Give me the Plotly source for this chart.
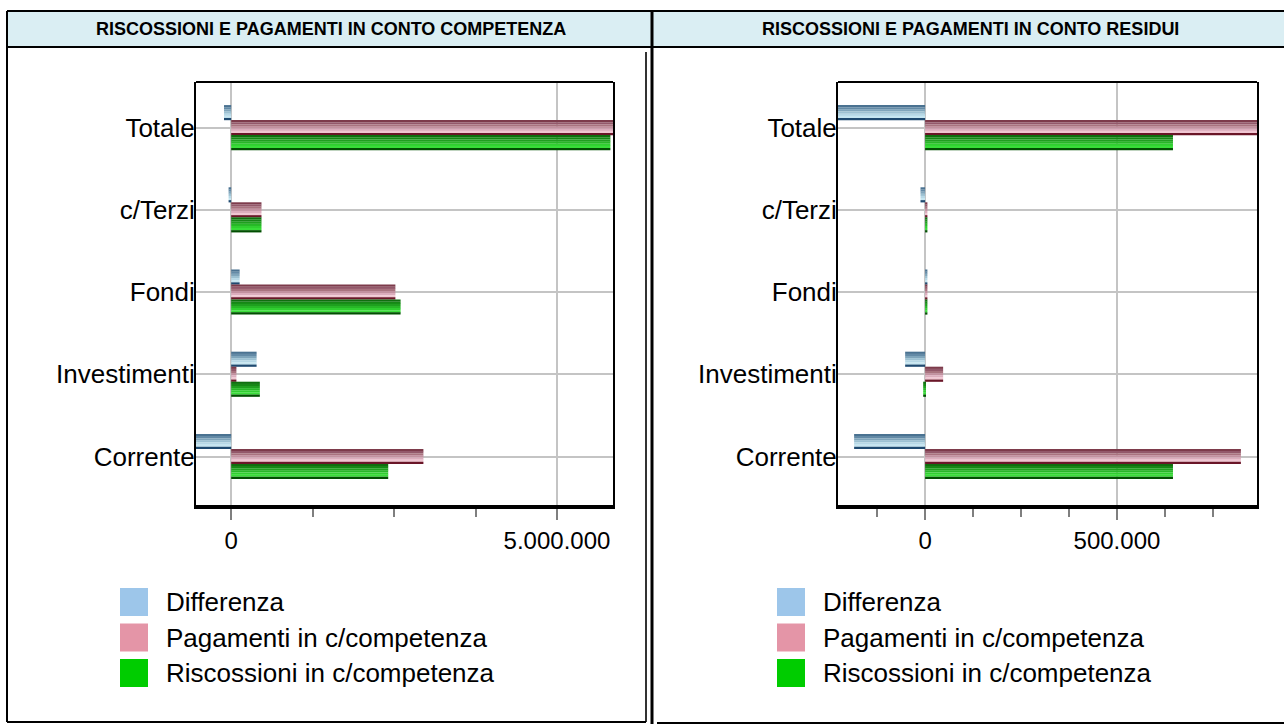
import plotly.graph_objects as go

# ---------------- data ----------------
categories = ["Corrente", "Investimenti", "Fondi", "c/Terzi", "Totale"]
series_names = ["Differenza", "Pagamenti in c/competenza", "Riscossioni in c/competenza"]
panel_titles = ["RISCOSSIONI E PAGAMENTI IN CONTO COMPETENZA",
                "RISCOSSIONI E PAGAMENTI IN CONTO RESIDUI"]

comp_differenza = [-540000, 390000, 130000, -40000, -110000]
comp_pagamenti = [2950000, 80000, 2520000, 465000, 5930000]
comp_riscossioni = [2410000, 440000, 2600000, 465000, 5820000]

res_differenza = [-185000, -52000, 6000, -12000, -232000]
res_pagamenti = [823000, 47000, 6000, 6000, 878000]
res_riscossioni = [646000, -5000, 6000, 6000, 646000]

# ---------------- styles ----------------
W, H = 1284, 725
FONT = "Liberation Sans, Arial, sans-serif"
stripe_colors = [
    ["#4a7291", "#638aa6", "#7fa5bb", "#9cc1d2", "#b6d8e6", "#c6e6f1", "#1f4a70"],
    ["#7d3b4b", "#93586a", "#a9737f", "#c391a0", "#dcadbd", "#f0c6d2", "#6a1628"],
    ["#0f6f0f", "#168716", "#1f9f1f", "#27b727", "#30cf30", "#38dd38", "#014f01"],
]
legend_colors = ["#9dc6ea", "#e495a7", "#00cc00"]
bar_t = 0.1826
center_off = [bar_t, 0.0, -bar_t]


def px(x):
    return x / W


def py(y):
    return 1 - y / H


fig = go.Figure()

panels = [
    (("x", "y"), [comp_differenza, comp_pagamenti, comp_riscossioni]),
    (("x2", "y2"), [res_differenza, res_pagamenti, res_riscossioni]),
]
n_str = len(stripe_colors[0])
st = bar_t / n_str
for (xa, ya), series in panels:
    for s, vals in enumerate(series):
        for i in range(n_str):
            off = center_off[s] + bar_t / 2 - (i + 1) * st
            fig.add_trace(go.Bar(
                x=vals, y=categories, orientation="h",
                xaxis=xa, yaxis=ya,
                width=st * 1.05, offset=off,
                marker=dict(color=stripe_colors[s][i], line=dict(width=0)),
                name=series_names[s], showlegend=False, hoverinfo="x+name",
            ))

axis_font = dict(family=FONT, size=24, color="black")
cat_font = dict(family=FONT, size=26, color="black")

common_x = dict(
    showgrid=True, gridcolor="#c4c4c4", gridwidth=2,
    zeroline=False, showline=True, linecolor="black", linewidth=4, mirror=False,
    ticks="outside", ticklen=11, tickwidth=2, tickcolor="#7f7f7f",
    tickfont=axis_font, tickformat=",d", tick0=0,
)
common_y = dict(
    type="category", categoryorder="array", categoryarray=categories,
    range=[-0.59, 4.556],
    showgrid=True, gridcolor="#c4c4c4", gridwidth=2,
    showline=True, linecolor="black", linewidth=2, mirror=True,
    ticks="", tickfont=cat_font, zeroline=False, ticklabelstandoff=-6,
)

y_dom = [py(505), py(82)]
fig.update_layout(
    xaxis=dict(common_x, domain=[px(196), px(613)], range=[-540000, 5860000],
               dtick=5000000, anchor="y",
               minor=dict(ticks="outside", dtick=1250000, tick0=0, ticklen=8,
                          tickwidth=2, tickcolor="#7f7f7f", showgrid=False)),
    yaxis=dict(common_y, domain=y_dom, anchor="x"),
    xaxis2=dict(common_x, domain=[px(838), px(1257)], range=[-227000, 865000],
                dtick=500000, anchor="y2",
                minor=dict(ticks="outside", dtick=125000, tick0=0, ticklen=8,
                           tickwidth=2, tickcolor="#7f7f7f", showgrid=False)),
    yaxis2=dict(common_y, domain=y_dom, anchor="x2"),
    barmode="overlay",
    separators=",.",
    width=W, height=H,
    margin=dict(l=0, r=0, t=0, b=0),
    paper_bgcolor="white", plot_bgcolor="white",
    showlegend=False,
    font=dict(family=FONT, color="black"),
)

shapes = []
annotations = []


def line(x0, y0, x1, y1, w=2, c="black"):
    shapes.append(dict(type="line", xref="paper", yref="paper",
                       x0=px(x0), y0=py(y0), x1=px(x1), y1=py(y1),
                       line=dict(color=c, width=w), layer="above"))


# header band
shapes.append(dict(type="rect", xref="paper", yref="paper",
                   x0=px(7), x1=px(1284), y0=py(47), y1=py(11),
                   fillcolor="#daeef3", line=dict(width=0), layer="below"))
line(7, 11, 1284, 11)
line(7, 47, 1284, 47)
line(7, 11, 7, 722)
line(652, 11, 652, 724, w=3)
line(646, 52, 646, 722, w=2, c="#333333")
line(7, 722, 646, 722)
line(657, 723, 1284, 723)

# top frame lines of the plot areas
for xr, yr in (("x domain", "y domain"), ("x2 domain", "y2 domain")):
    shapes.append(dict(type="line", xref=xr, yref=yr, x0=0, x1=1, y0=1, y1=1,
                       line=dict(color="black", width=2), layer="above"))

# titles
for title, cx in zip(panel_titles, (331, 970)):
    annotations.append(dict(text=f"<b>{title}</b>", x=px(cx), y=py(29),
                            xref="paper", yref="paper", showarrow=False,
                            xanchor="center", yanchor="middle",
                            font=dict(family=FONT, size=18, color="black")))

# legends
for sx in (120, 777):
    for k, name in enumerate(series_names):
        yc = 602 + k * 35.5
        shapes.append(dict(type="rect", xref="paper", yref="paper",
                           x0=px(sx), x1=px(sx + 28), y0=py(yc + 14), y1=py(yc - 14),
                           fillcolor=legend_colors[k], line=dict(width=0)))
        annotations.append(dict(text=name, x=px(sx + 44), y=py(yc),
                                xref="paper", yref="paper", showarrow=False,
                                xanchor="left", yanchor="middle",
                                font=dict(family=FONT, size=26, color="black")))

fig.update_layout(shapes=shapes, annotations=annotations)
fig.write_html("out.html", post_script="document.body.style.margin='0';",
               config={"displayModeBar": False})
